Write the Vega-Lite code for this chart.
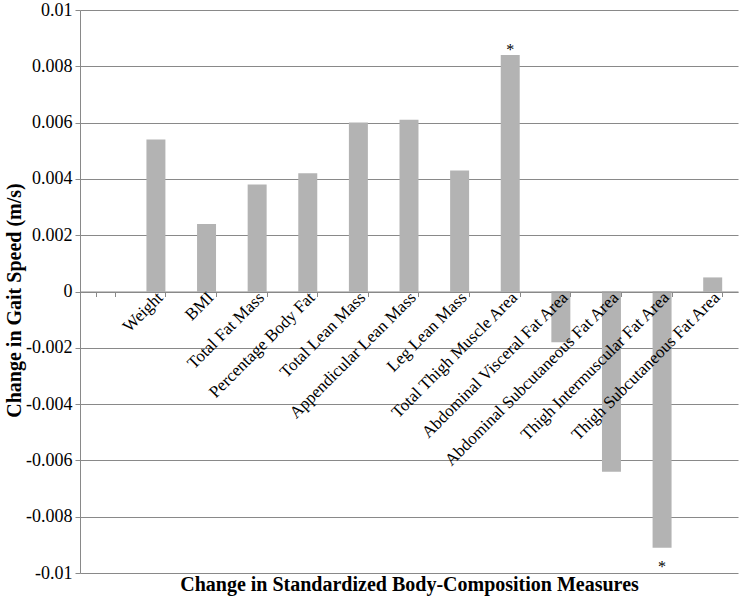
{
  "$schema": "https://vega.github.io/schema/vega-lite/v6.json",
  "width": 658,
  "height": 563,
  "autosize": "none",
  "padding": {"left": 80, "top": 10, "right": 2, "bottom": 26},
  "background": "white",
  "config": {
    "view": {"stroke": null},
    "font": "Liberation Serif",
    "axis": {"labelFont": "Liberation Serif", "titleFont": "Liberation Serif"},
    "text": {"font": "Liberation Serif"}
  },
  "data": {
    "values": [
      {"measure": "Weight", "change": 0.0054, "star": ""},
      {"measure": "BMI", "change": 0.0024, "star": ""},
      {"measure": "Total Fat Mass", "change": 0.0038, "star": ""},
      {"measure": "Percentage Body Fat", "change": 0.0042, "star": ""},
      {"measure": "Total Lean Mass", "change": 0.006, "star": ""},
      {"measure": "Appendicular Lean Mass", "change": 0.0061, "star": ""},
      {"measure": "Leg Lean Mass", "change": 0.0043, "star": ""},
      {"measure": "Total Thigh Muscle Area", "change": 0.0084, "star": "*"},
      {"measure": "Abdominal Visceral Fat Area", "change": -0.0018, "star": ""},
      {"measure": "Abdominal Subcutaneous Fat Area", "change": -0.0064, "star": ""},
      {"measure": "Thigh Intermuscular Fat Area", "change": -0.0091, "star": "*"},
      {"measure": "Thigh Subcutaneous Fat Area", "change": 0.0005, "star": ""}
    ]
  },
  "encoding": {
    "x": {
      "field": "measure",
      "type": "nominal",
      "sort": null,
      "scale": {
        "domain": ["", "Weight", "BMI", "Total Fat Mass", "Percentage Body Fat", "Total Lean Mass", "Appendicular Lean Mass", "Leg Lean Mass", "Total Thigh Muscle Area", "Abdominal Visceral Fat Area", "Abdominal Subcutaneous Fat Area", "Thigh Intermuscular Fat Area", "Thigh Subcutaneous Fat Area"],
        "paddingInner": 0.625,
        "paddingOuter": 0.3125
      },
      "axis": {
        "title": "Change in Standardized Body-Composition Measures",
        "titleFont": "Liberation Serif",
        "titleFontSize": 20,
        "titleFontWeight": "bold",
        "titleColor": "black",
        "titleY": 299,
        "titleBaseline": "alphabetic",
        "offset": -281.5,
        "zindex": 1,
        "tickBand": "extent",
        "domainColor": "#898989",
        "tickColor": "#898989",
        "tickSize": 5,
        "labelFont": "Liberation Serif",
        "labelAngle": -45,
        "labelAlign": "right",
        "labelBaseline": "middle",
        "labelFontSize": 17,
        "labelColor": "black",
        "labelPadding": -2,
        "labelOffset": 4,
        "labelLimit": 0,
        "labelOverlap": false,
        "grid": false
      }
    }
  },
  "layer": [
    {
      "mark": {"type": "bar", "color": "#b3b3b3"},
      "encoding": {
        "y": {
          "field": "change",
          "type": "quantitative",
          "scale": {"domain": [-0.01, 0.01], "nice": false},
          "axis": {
            "title": "Change in Gait Speed (m/s)",
            "titleFont": "Liberation Serif",
            "titleFontSize": 20,
            "titleFontWeight": "bold",
            "titleColor": "black",
            "titleX": -66,
            "titleY": 290,
            "titleBaseline": "middle",
            "values": [-0.01, -0.008, -0.006, -0.004, -0.002, 0, 0.002, 0.004, 0.006, 0.008, 0.01],
            "labelExpr": "replace(format(datum.value, '~g'), '\u2212', '-')",
            "labelFont": "Liberation Serif",
            "labelFontSize": 18,
            "labelColor": "black",
            "labelPadding": 3,
            "tickSize": 5,
            "tickColor": "#898989",
            "domainColor": "#898989",
            "grid": true,
            "gridColor": "#898989",
            "gridOpacity": 1
          }
        }
      }
    },
    {
      "transform": [{"filter": "datum.star == '*' && datum.change > 0"}],
      "mark": {"type": "text", "font": "Liberation Serif", "dy": -5, "baseline": "middle", "fontSize": 16, "color": "black"},
      "encoding": {
        "y": {"field": "change", "type": "quantitative"},
        "text": {"field": "star"}
      }
    },
    {
      "transform": [{"filter": "datum.star == '*' && datum.change < 0"}],
      "mark": {"type": "text", "font": "Liberation Serif", "dy": 19, "baseline": "middle", "fontSize": 16, "color": "black"},
      "encoding": {
        "y": {"field": "change", "type": "quantitative"},
        "text": {"field": "star"}
      }
    }
  ]
}
